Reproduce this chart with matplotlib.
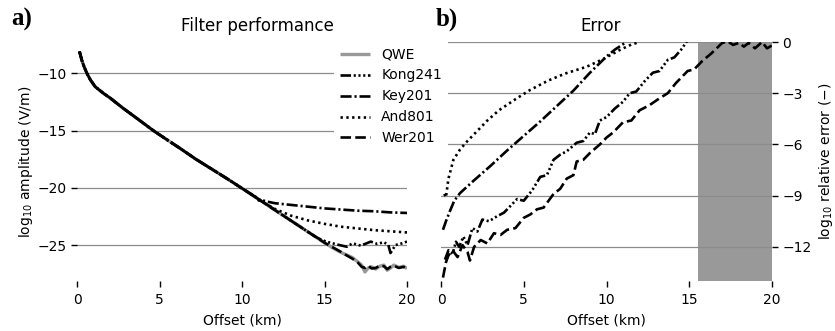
import numpy as np
import matplotlib
matplotlib.use("Agg")
import matplotlib.pyplot as plt

# ---------------- data ----------------
labels = ["QWE", "Kong241", "Key201", "And801", "Wer201"]

# shared part of the amplitude curve (all filters agree here)
off_base = [0.15, 0.3, 0.45, 0.6, 0.8, 1.1, 1.6, 2.0, 2.8, 3.5, 4.62, 5.5, 6.24, 7.2, 8.26, 9.2, 10.0]
amp_base = [-8.1, -8.9, -9.5, -10.0, -10.55, -11.17, -11.75, -12.15, -13.06, -13.8, -15.0,
            -15.85, -16.55, -17.5, -18.45, -19.3, -20.05]

off_qwe = [11, 12, 13, 14, 15, 15.5, 16, 16.4, 16.7, 17.0, 17.25, 17.45, 17.65, 17.86, 18.1,
           18.35, 18.6, 18.8, 19.0, 19.2, 19.5, 19.8, 20.0]
amp_qwe = [-21.0, -21.95, -22.9, -23.85, -24.8, -25.25, -25.65, -25.9, -26.1, -26.45, -26.75,
           -27.35, -27.0, -26.9, -27.1, -26.85, -26.75, -27.2, -27.0, -26.75, -26.95, -26.85, -27.05]
amp_wer = [-21.0, -21.95, -22.9, -23.85, -24.8, -25.2, -25.6, -25.95, -26.2, -26.5, -26.9,
           -27.0, -26.8, -27.05, -27.0, -26.8, -26.85, -27.1, -26.9, -26.8, -27.0, -26.9, -27.1]

off_kong = [10.5, 10.8, 11.0, 11.2, 11.5, 12, 13, 14, 14.6, 15.1, 15.5, 15.9, 16.35, 16.7, 17.2,
            17.55, 17.8, 18.2, 18.6, 18.87, 19.0, 19.3, 19.7, 20.0]
amp_kong = [-20.5, -20.75, -21.1, -21.15, -21.45, -21.95, -22.9, -23.85, -24.4, -24.7, -24.85,
            -25.0, -25.15, -24.85, -25.05, -24.85, -24.7, -24.9, -24.75, -25.0, -25.7, -25.0,
            -24.85, -24.7]

off_key = [10.5, 11, 11.5, 12, 13, 14, 15, 16, 17, 18, 19, 20]
amp_key = [-20.5, -21.0, -21.2, -21.35, -21.5, -21.65, -21.8, -21.9, -22.0, -22.05, -22.15, -22.2]

off_and = [10.5, 11, 11.5, 12, 13, 14, 15, 16, 17, 18, 19, 20]
amp_and = [-20.5, -21.0, -21.45, -21.85, -22.45, -22.85, -23.15, -23.4, -23.55, -23.7, -23.8, -23.9]

# relative error (log10)
err_off_kong = [0.24, 0.45, 0.7, 0.9, 1.1, 1.35, 1.6, 1.9, 2.2, 2.5, 2.9, 3.4, 3.8, 4.2, 4.6, 5.0,
                5.5, 6.0, 6.4, 6.8, 7.2, 7.6, 8.2, 8.6, 9.0, 9.3, 9.6, 10.0, 10.5, 11.0, 11.4,
                11.8, 12.3, 12.8, 13.2, 13.7, 14.1, 14.6, 14.8, 15.1]
err_kong = [-12.75, -12.2, -12.4, -11.7, -12.0, -11.4, -11.9, -10.9, -11.1, -10.4, -10.5, -10.2,
            -10.0, -9.6, -9.2, -9.3, -8.7, -7.9, -7.8, -6.9, -6.6, -6.4, -5.9, -5.8, -5.3, -5.4,
            -4.6, -4.4, -3.9, -3.5, -3.0, -2.9, -2.3, -1.8, -1.7, -1.05, -0.9, -0.35, 0.0, 0.1]

err_off_key = [0.12, 0.3, 0.5, 0.8, 1.15, 2.0, 3.0, 4.0, 5.0, 6.0, 7.0, 8.0, 9.0, 10.0, 10.5, 11.2]
err_key = [-11.0, -10.5, -10.0, -9.3, -8.85, -8.1, -7.25, -6.35, -5.5, -4.65, -3.75, -2.85,
           -1.8, -0.85, -0.45, 0.0]

err_off_and = [0.2, 0.3, 0.45, 0.75, 1.15, 1.5, 2.0, 2.8, 3.5, 4.5, 5.4, 6.5, 7.5, 8.8, 9.8,
               10.8, 11.5, 12.0]
err_and = [-8.9, -9.1, -8.0, -6.9, -6.3, -5.9, -5.4, -4.6, -4.0, -3.35, -2.8, -2.25, -1.85,
           -1.45, -1.0, -0.47, -0.15, 0.0]

err_off_wer = [0.12, 0.3, 0.45, 0.7, 1.0, 1.3, 1.6, 1.75, 2.0, 2.4, 2.8, 3.2, 3.6, 4.0, 4.5, 5.0,
               5.4, 5.8, 6.2, 6.8, 7.2, 7.6, 8.0, 8.2, 8.6, 9.0, 9.6, 10.0, 10.4, 11.0, 11.5,
               12.0, 12.6, 13.2, 13.7, 14.2, 14.9, 15.3, 15.8, 16.3, 16.55, 16.96, 17.3, 17.65,
               18.0, 18.3, 18.6, 18.97, 19.4, 19.7, 20.0]
err_wer = [-13.8, -12.9, -12.5, -12.2, -12.6, -11.9, -12.3, -12.8, -12.0, -11.6, -11.8, -11.2,
           -11.3, -11.0, -10.9, -10.3, -10.1, -9.8, -9.7, -8.9, -8.6, -8.0, -7.8, -7.0, -6.9,
           -6.5, -6.0, -5.6, -5.3, -4.7, -4.6, -4.0, -3.7, -3.3, -3.0, -2.4, -1.7, -1.6, -1.1,
           -0.7, -0.47, -0.08, 0.05, -0.17, -0.05, -0.27, -0.05, -0.37, 0.0, -0.37, -0.2]

xticks = [0, 5, 10, 15, 20]
yticks_amp = [-10, -15, -20, -25]
yticks_err = [0, -3, -6, -9, -12]
shade_range = (15.5, 20)

# ---------------- styles ----------------
black_lw = 1.9
styles = {
    "Kong241": (0, (4.0, 1.0, 0.8, 1.0, 0.8, 1.0, 0.8, 1.0)),
    "Key201": (0, (4.2, 1.1, 0.8, 1.1)),
    "And801": (0, (0.9, 1.3)),
    "Wer201": (0, (4.0, 1.6)),
}
grid_col = "#8c8c8c"

fig = plt.figure(figsize=(8.35, 3.31), dpi=100)
W, H = 835, 331
ax1 = fig.add_axes([77 / W, 1 - 281 / H, 330 / W, 239 / H])
ax2 = fig.add_axes([441 / W, 1 - 281 / H, 331 / W, 239 / H])

# ---- panel a ----
xb = list(off_base)
h_qwe, = ax1.plot(xb + off_qwe, amp_base + amp_qwe, color="#999999", lw=2.4, solid_capstyle="butt")
h_kong, = ax1.plot(xb + off_kong, amp_base + amp_kong, color="k", lw=black_lw, ls=styles["Kong241"])
h_key, = ax1.plot(xb + off_key, amp_base + amp_key, color="k", lw=black_lw, ls=styles["Key201"])
h_and, = ax1.plot(xb + off_and, amp_base + amp_and, color="k", lw=black_lw, ls=styles["And801"])
h_wer, = ax1.plot(xb + off_qwe, amp_base + amp_wer, color="k", lw=black_lw, ls=styles["Wer201"])

ax1.set_xlim(0, 20)
ax1.set_ylim(-28.14, -7.27)
ax1.set_xticks(xticks)
ax1.set_yticks(yticks_amp)
ax1.set_yticklabels([f"\u2212{abs(v)}" for v in yticks_amp])
ax1.set_xlabel("Offset (km)", fontsize=10)
ax1.set_ylabel("log$_{10}$ amplitude (V/m)", fontsize=10, labelpad=2)
ax1.set_title("Filter performance", fontsize=12, x=(257 - 77) / 330, pad=8)

# ---- panel b ----
ax2.axvspan(*shade_range, color="#999999", lw=0)
ax2.plot(err_off_kong, err_kong, color="k", lw=black_lw, ls=styles["Kong241"])
ax2.plot(err_off_key, err_key, color="k", lw=black_lw, ls=styles["Key201"])
ax2.plot(err_off_and, err_and, color="k", lw=black_lw, ls=styles["And801"])
ax2.plot(err_off_wer, err_wer, color="k", lw=black_lw, ls=styles["Wer201"])
ax2.set_xlim(0, 20)
ax2.set_ylim(-14, 0)
ax2.set_xticks(xticks)
ax2.set_yticks(yticks_err)
ax2.set_yticklabels(["0"] + [f"\u2212{abs(v)}" for v in yticks_err[1:]])
ax2.yaxis.tick_right()
ax2.yaxis.set_label_position("right")
ax2.set_xlabel("Offset (km)", fontsize=10)
ax2.set_ylabel("log$_{10}$ relative error (\u2212)", fontsize=10)
ax2.set_title("Error", fontsize=12, x=(601 - 441) / 331, pad=8)

for ax in (ax1, ax2):
    for s in ax.spines.values():
        s.set_visible(False)
    ax.grid(axis="y", color=grid_col, lw=0.9)
    ax.grid(axis="x", visible=False)
    ax.tick_params(labelsize=10, length=4, width=1, colors="k")
    ax.tick_params(axis="x", pad=5)
    ax.set_facecolor("none")

fig.legend([h_qwe, h_kong, h_key, h_and, h_wer], labels, loc="upper left",
           bbox_to_anchor=(334 / W, 1 - 42 / H), borderaxespad=0, fontsize=10,
           frameon=True, facecolor="white", edgecolor="none", framealpha=1,
           fancybox=False, handlelength=2.2, handletextpad=0.8)

fig.text(11 / W, 1 - 8 / H, "a)", fontsize=18, fontweight="bold",
         family="Liberation Serif", va="top", ha="left")
fig.text(436 / W, 1 - 8 / H, "b)", fontsize=18, fontweight="bold",
         family="Liberation Serif", va="top", ha="left")

fig.savefig("out.png", dpi=100)
